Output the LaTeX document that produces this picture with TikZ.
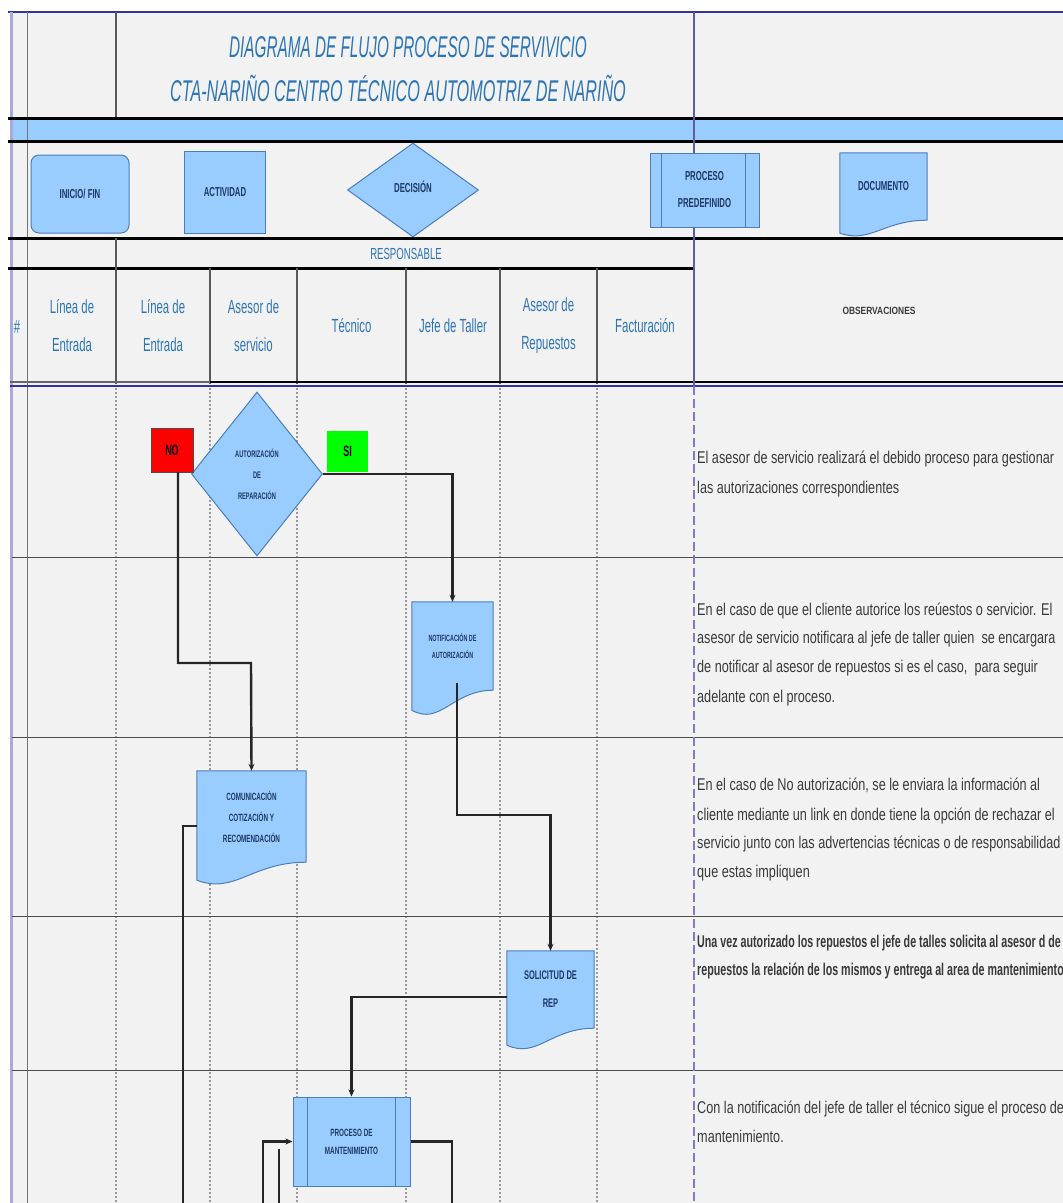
\documentclass[tikz,border=0pt]{standalone}
\usepackage{fontspec}
\setmainfont{Liberation Sans}
\usetikzlibrary{shapes.geometric,arrows.meta,calc}
\newfontfamily\fTitA[FakeStretch=0.51]{Liberation Sans}
\newfontfamily\fTitB[FakeStretch=0.54]{Liberation Sans}
\newfontfamily\fHead[FakeStretch=0.6]{Liberation Sans}
\newfontfamily\fSmall[FakeStretch=0.6]{Liberation Sans}
\newfontfamily\fObs[FakeStretch=0.745]{Liberation Sans}
\newfontfamily\fObsB[FakeStretch=0.63]{Liberation Sans}
\newfontfamily\fObsH[FakeStretch=0.8]{Liberation Sans}
\definecolor{bgc}{HTML}{F2F2F2}
\definecolor{shfill}{HTML}{99CCFF}
\definecolor{shedge}{HTML}{4A7EBB}
\definecolor{navy}{HTML}{1F3864}
\definecolor{hblue}{HTML}{2E75B6}
\definecolor{frameblue}{HTML}{333399}
\definecolor{lav}{HTML}{A9A9DD}
\definecolor{dashblue}{HTML}{7B7BCF}
\definecolor{obsgray}{HTML}{3A3A3A}
\definecolor{redbox}{HTML}{FF0000}
\definecolor{greenbox}{HTML}{00FF00}
\newcommand\docshape[2]{%
  \filldraw[fill=shfill, draw=shedge, line width=1pt]
    (#1.north west) -- (#1.north east) -- (#1.south east)
    .. controls ($(#1.south east)!0.5!(#1.south west)$) and ($(#1.south west)!0.35!(#1.south east)+(0,1.8*#2)$)
    .. ($(#1.south west)+(0,#2)$) -- cycle;}
\newcommand\predefl[3]{%
  \draw[draw=shedge, line width=0.8pt] ([xshift=#2]#1.north west) -- ([xshift=#2]#1.south west);
  \draw[draw=shedge, line width=0.8pt] ([xshift=-#3]#1.north east) -- ([xshift=-#3]#1.south east);}
\begin{document}
\begin{tikzpicture}[x=1pt,y=-1pt,
  shp/.style={draw=shedge, fill=shfill, line width=1pt, inner sep=0pt},
  docbox/.style={draw=none, inner sep=0pt},
  lgtxt/.style={text=navy, font=\fSmall\bfseries\fontsize{13}{16}\selectfont, align=center},
  smtxt/.style={text=navy, align=center, inner sep=0pt},
  hdtxt/.style={text=hblue, font=\fHead\fontsize{19}{38}\selectfont, align=center, inner sep=0pt},
  obs/.style={text=obsgray, font=\fObs\fontsize{17}{20}\selectfont, anchor=base west, inner sep=0pt},
  obsb/.style={obs, font=\fObsB\bfseries\fontsize{17}{20}\selectfont},
  conn/.style={draw=black!85, line width=2.4pt},
  arr/.style={conn, -{Stealth[length=7pt,width=6pt]}},
  lane/.style={draw=black!40, line width=1.8pt, dash pattern=on 2pt off 2pt},
  rowline/.style={draw=black!70, line width=1pt},
  thick3/.style={draw=black, line width=3pt},
  hv/.style={draw=black!65, line width=1.2pt}
]
\useasboundingbox (0,0) rectangle (1063,1203);
% background
\fill[bgc] (10,12) rectangle (1063,1203);
% blue band
\fill[shfill] (10,119) rectangle (1063,140);
% frame
\draw[frameblue, line width=1.5pt] (8,12) -- (1063,12);
\draw[lav, line width=3pt] (11,12) -- (11,1203);
\draw[black!55, line width=1pt] (27,12) -- (27,1203);
% title verticals
\draw[hv] (116,12) -- (116,118);
% thick lines
\draw[thick3] (8,118) -- (1063,118);
\draw[thick3] (8,141) -- (1063,141);
\draw[thick3] (8,238) -- (1063,238);
\draw[thick3] (8,268) -- (693,268);
% header verticals
\draw[hv] (116,238) -- (116,384);
\foreach \xx in {210,297,406,500,597} {\draw[hv] (\xx,268) -- (\xx,384);}
\draw[black!60, line width=1.5pt] (10,382) -- (210,382);
\draw[black, line width=2pt] (210,382) -- (1063,382);
\draw[frameblue, line width=1.5pt] (10,386) -- (1063,386);
% lanes
\foreach \xx in {116,210,297,406,500,597} {\draw[lane] (\xx,388) -- (\xx,1203);}
% row lines
\foreach \yy in {557,737,916,1070} {\draw[rowline] (12,\yy) -- (1063,\yy);}
% divider
\draw[frameblue!80, line width=1.3pt] (694,12) -- (694,386);
\draw[dashblue, line width=2.2pt, dash pattern=on 9pt off 4pt] (694,386) -- (694,1203);

% title
\node[text=hblue, font=\fTitA\itshape\fontsize{30}{30}\selectfont, inner sep=0pt] (t1) at (408,47) {DIAGRAMA DE FLUJO PROCESO DE SERVIVICIO};
\node[text=hblue, font=\fTitB\itshape\fontsize{30}{30}\selectfont, inner sep=0pt] (t2) at (398,88) {CTA-NARIÑO CENTRO TÉCNICO AUTOMOTRIZ DE NARIÑO};

% legend
\node[shp, rounded corners=8pt, minimum width=98pt, minimum height=78pt, lgtxt] (lgini) at (80,194) {INICIO/ FIN};
\node[shp, minimum width=81pt, minimum height=82pt, lgtxt] (lgact) at (225,192) {ACTIVIDAD};
\node[shp, diamond, minimum width=131pt, minimum height=94pt, lgtxt] (lgdec) at (413,190) {\raisebox{6pt}{DECISIÓN}};
\node[shp, minimum width=109pt, minimum height=74pt, lgtxt, font=\fSmall\bfseries\fontsize{13}{27}\selectfont] (lgpre) at (704.5,190) {PROCESO\\PREDEFINIDO};
\predefl{lgpre}{12pt}{14pt}
\node[docbox, minimum width=87pt, minimum height=67pt] (lgdoc) at (883.5,186.5) {};
\docshape{lgdoc}{13}
\node[lgtxt] (lgdoct) at (lgdoc.center) {DOCUMENTO};

% header texts
\node[text=hblue, font=\fHead\fontsize{16}{18}\selectfont, inner sep=0pt] (resp) at (406,254) {RESPONSABLE};
\node[hdtxt] (hnum) at (17,327) {\#};
\node[hdtxt] (h1) at (72,326) {Línea de\\Entrada};
\node[hdtxt] (h2) at (163,326) {Línea de\\Entrada};
\node[hdtxt] (h3) at (253.5,326) {Asesor de\\servicio};
\node[hdtxt] (h4) at (351.5,326) {Técnico};
\node[hdtxt] (h5) at (453,326) {Jefe de Taller};
\node[hdtxt] (h6) at (548.5,326) {Asesor de\\Repuestos};
\node[hdtxt] (h7) at (645,326) {Facturación};
\node[text=obsgray, font=\fObsH\bfseries\fontsize{10.5}{12}\selectfont, inner sep=0pt] (hobs) at (879,311) {OBSERVACIONES};

% flow shapes
\node[shp, diamond, minimum width=131pt, minimum height=164pt, smtxt, font=\fSmall\bfseries\fontsize{9.5}{21}\selectfont] (dec) at (257,474) {AUTORIZACIÓN\\DE\\REPARACIÓN};
\node[fill=redbox, draw=black!70, line width=0.8pt, minimum width=42pt, minimum height=44pt, inner sep=0pt, font=\fSmall\bfseries\fontsize{15}{16}\selectfont] (nobox) at (172,450) {NO};
\node[fill=greenbox, draw=none, minimum width=41pt, minimum height=41pt, inner sep=0pt, font=\fSmall\bfseries\fontsize{15}{16}\selectfont] (sibox) at (347.5,451.5) {SI};

\node[docbox, minimum width=81pt, minimum height=88pt] (notif) at (452.5,646) {};
\docshape{notif}{20}
\node[smtxt, font=\fSmall\bfseries\fontsize{9}{17}\selectfont] (notift) at (notif.center) {NOTIFICACIÓN DE\\AUTORIZACIÓN};

\node[docbox, minimum width=109pt, minimum height=91pt] (com) at (251.5,816.5) {};
\docshape{com}{18}
\node[smtxt, font=\fSmall\bfseries\fontsize{10.5}{21}\selectfont] (comt) at (com.center) {COMUNICACIÓN\\COTIZACIÓN Y\\RECOMENDACIÓN};

\node[docbox, minimum width=87pt, minimum height=77pt] (sol) at (550.5,989.5) {};
\docshape{sol}{17}
\node[smtxt, font=\fSmall\bfseries\fontsize{12.5}{28}\selectfont] (solt) at (sol.center) {SOLICITUD DE\\REP};

\node[shp, minimum width=117pt, minimum height=89pt, smtxt, font=\fSmall\bfseries\fontsize{10.5}{18}\selectfont] (proc) at (351.5,1141.5) {PROCESO DE\\MANTENIMIENTO};
\predefl{proc}{15pt}{15pt}

% connectors
\coordinate (nos) at (178,472);
\coordinate (k1) at (251,663);
\draw[arr] (nos) |- (k1) -- (com.north);
\draw[arr] (dec.east) -| (notif.north);
\coordinate (nts) at (457,683);
\coordinate (k2) at (457,815);
\draw[arr] (nts) -- (k2) -| (sol.north);
\coordinate (solw) at (507,997);
\draw[arr] (solw) -| (proc.north);
\coordinate (b1) at (452,1203);
\draw[conn] (proc.east) -| (b1);
\coordinate (b2) at (263,1203);
\draw[arr] (b2) |- (proc.west);
\coordinate (b3) at (279,1203);
\coordinate (b3t) at (279,1149);
\draw[conn] (b3) -- (b3t);
\coordinate (comw) at (197,826);
\coordinate (b4) at (183,1203);
\draw[conn] (comw) -| (b4);

% observations
\begin{scope}
\clip (695,387) rectangle (1063,1203);
\node[obs] (o1a) at (697,463) {El asesor de servicio realizará el debido proceso para gestionar};
\node[obs] (o1b) at (697,493) {las autorizaciones correspondientes};
\node[obs] (o2a) at (697,615) {En el caso de que el cliente autorice los reúestos o servicior. El};
\node[obs] (o2b) at (697,643) {asesor de servicio notificara al jefe de taller quien \ se encargara};
\node[obs] (o2c) at (697,672) {de notificar al asesor de repuestos si es el caso, \ para seguir};
\node[obs] (o2d) at (697,702) {adelante con el proceso.};
\node[obs] (o3a) at (697,790) {En el caso de No autorización, se le enviara la información al};
\node[obs] (o3b) at (697,820) {cliente mediante un link en donde tiene la opción de rechazar el};
\node[obs] (o3c) at (697,848) {servicio junto con las advertencias técnicas o de responsabilidad};
\node[obs] (o3d) at (697,877) {que estas impliquen};
\node[obsb] (o4a) at (697,947) {Una vez autorizado los repuestos el jefe de talles solicita al asesor d de};
\node[obsb] (o4b) at (697,975) {repuestos la relación de los mismos y entrega al area de mantenimiento};
\node[obs] (o5a) at (697,1113) {Con la notificación del jefe de taller el técnico sigue el proceso de};
\node[obs] (o5b) at (697,1142) {mantenimiento.};
\end{scope}
\end{tikzpicture}
\end{document}
